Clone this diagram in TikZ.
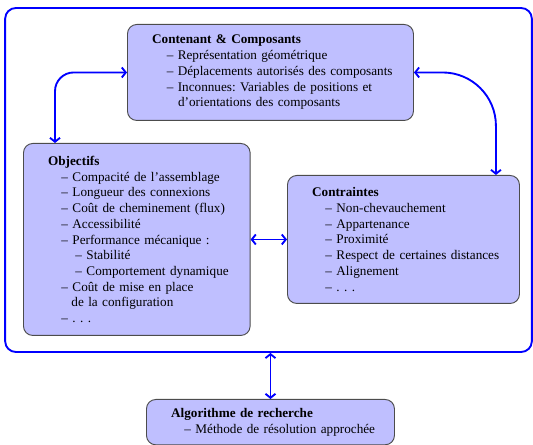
\documentclass[tikz,border=0pt]{standalone}
\usepackage{fontspec}
\setmainfont{Liberation Serif}
\usetikzlibrary{positioning}
\usetikzlibrary{arrows.meta}
\frenchspacing

\tikzset{
	bloc/.style={draw=black!70, fill=blue!25, line width=0.7pt, rounded corners=7pt,
		anchor=north west, align=left, inner xsep=6pt, inner ysep=3pt,
		font=\fontsize{9.9}{11.8}\selectfont},
	fleche/.style={draw=blue, line width=1.4pt, >={Straight Barb[length=3pt,width=7.5pt]}, <->},
}

\begin{document}
\begin{tikzpicture}[x=0.75pt,y=-0.75pt]
	\useasboundingbox (0,0) rectangle (533,445);
	% cadre bleu autour des trois blocs
	\node[draw=blue, line width=1.4pt, rounded corners=8pt, inner sep=0pt,
		minimum width=395pt, minimum height=258pt] (cadre) at (268.5,180) {};

	\node[bloc, text width=202.5pt, minimum height=72pt] (contenant) at (127,24)
		{\hspace*{12.5pt}\textbf{Contenant \& Composants}\\
		\hspace*{23.5pt}-- Représentation géométrique\\
		\hspace*{23.5pt}-- Déplacements autorisés des composants\\
		\hspace*{23.5pt}-- Inconnues: Variables de positions et\\
		\hspace*{32pt}d'orientations des composants};

	\node[bloc, text width=158pt, minimum height=144pt] (objectifs) at (23,143)
		{\hspace*{12.5pt}\textbf{Objectifs}\\
		\hspace*{22.5pt}-- Compacité de l'assemblage\\
		\hspace*{22.5pt}-- Longueur des connexions\\
		\hspace*{22.5pt}-- Coût de cheminement (flux)\\
		\hspace*{22.5pt}-- Accessibilité\\
		\hspace*{22.5pt}-- Performance mécanique :\\
		\hspace*{33pt}-- Stabilité\\
		\hspace*{33pt}-- Comportement dynamique\\
		\hspace*{22.5pt}-- Coût de mise en place\\
		\hspace*{30pt}de la configuration\\
		\hspace*{22.5pt}-- . . .};

	\node[bloc, text width=162pt, minimum height=96pt] (contraintes) at (287,175)
		{\hspace*{12.5pt}\textbf{Contraintes}\\
		\hspace*{22.5pt}-- Non-chevauchement\\
		\hspace*{22.5pt}-- Appartenance\\
		\hspace*{22.5pt}-- Proximité\\
		\hspace*{22.5pt}-- Respect de certaines distances\\
		\hspace*{22.5pt}-- Alignement\\
		\hspace*{22.5pt}-- . . .};

	\node[bloc, text width=174pt, minimum height=34pt] (algo) at (146,399)
		{\hspace*{12.5pt}\textbf{Algorithme de recherche}\\
		\hspace*{22.5pt}-- Méthode de résolution approchée};

	% liaisons
	\draw[fleche, rounded corners=14pt] (contenant.west) -| ([xshift=24pt]objectifs.north west);
	\draw[fleche, rounded corners=40pt] (contenant.east) -| ([xshift=-18pt]contraintes.north east);
	\draw[fleche] (objectifs.east) -- (contraintes.west);
	\draw[fleche] (cadre.south -| algo.north) -- (algo.north);
\end{tikzpicture}
\end{document}
